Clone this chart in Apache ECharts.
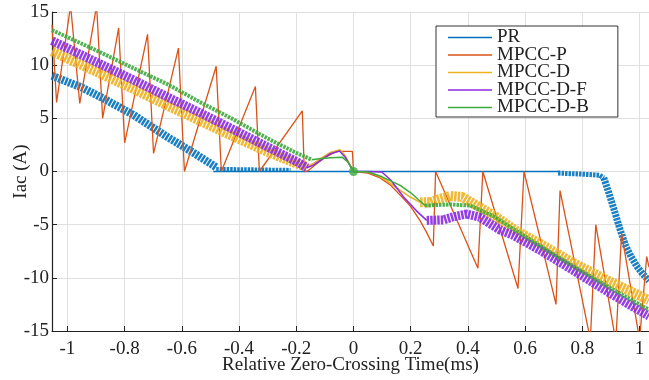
<!DOCTYPE html>
<html>
<head>
<meta charset="utf-8">
<script src="https://cdn.jsdelivr.net/npm/echarts@6/dist/echarts.min.js"></script>
<style>
  html, body { margin: 0; padding: 0; background: #fff; }
  #chart { width: 649px; height: 380px; }
</style>
</head>
<body>
<div id="chart"></div>
<script>
const seriesNames = ["PR", "MPCC-P", "MPCC-D", "MPCC-D-F", "MPCC-D-B"];

// PR: rippled parts and the flat part around the zero crossing
const prRippleA = [[-1.054, 9.0], [-0.95, 7.9], [-0.884, 7.0], [-0.768, 5.3], [-0.651, 3.25], [-0.559, 1.75], [-0.5, 0.75], [-0.48, 0.4]];
const prRippleB = [[-0.48, 0.25], [-0.35, 0.2], [-0.22, 0.15]];
const prFlat = [[-0.49, 0], [0.72, 0]];
const prRippleC = [[0.715, -0.15], [0.8, -0.25], [0.86, -0.35], [0.875, -0.6]];
const prRippleD = [[0.875, -0.6], [0.89, -1.8], [0.91, -3.5], [0.93, -5.3], [0.95, -6.9], [0.97, -8.0], [0.99, -8.9], [1.01, -9.6], [1.033, -10.3]];

// MPCC-P: sawtooth vertices
const mpccP = [
  [-1.054, 13.8], [-1.038, 6.5], [-0.989, 15.6], [-0.957, 6.4], [-0.898, 15.6], [-0.877, 5.0],
  [-0.821, 13.5], [-0.8, 2.7], [-0.72, 12.9], [-0.699, 1.7], [-0.612, 11.6], [-0.591, 0],
  [-0.48, 9.9], [-0.462, 0], [-0.343, 8.0], [-0.329, 0], [-0.179, 5.7], [-0.172, 0],
  [-0.16, 0.05], [-0.13, 0.7], [-0.1, 1.3], [-0.07, 1.75], [-0.055, 1.9], [-0.004, 1.9], [0, 0],
  [0.05, -0.15], [0.093, -0.6], [0.13, -1.3], [0.173, -2.5], [0.2, -3.3], [0.232, -4.6], [0.255, -5.7],
  [0.279, -7.0], [0.287, 0], [0.435, -9.1], [0.452, 0], [0.575, -11.0], [0.596, 0], [0.708, -12.5],
  [0.722, -1.8], [0.828, -15.8], [0.847, -5.0], [0.917, -16.0], [0.937, -5.8], [1.0, -15.8],
  [1.025, -8.0], [1.033, -9.0]
];

// MPCC-D
const dRippleA = [[-1.054, 11.3], [-0.9, 9.4], [-0.768, 7.75], [-0.65, 6.2], [-0.535, 4.75], [-0.42, 3.3], [-0.3, 1.85], [-0.2, 0.75], [-0.163, 0.45]];
const dSmooth = [[-0.163, 0.45], [-0.14, 0.75], [-0.116, 1.2], [-0.081, 1.8], [-0.047, 2.05], [-0.029, 1.5], [0, 0], [0.05, -0.05], [0.08, -0.3], [0.116, -0.85], [0.16, -1.7], [0.198, -2.4], [0.233, -2.9]];
const dRippleB = [[0.233, -2.9], [0.268, -2.9], [0.3, -2.6], [0.337, -2.3], [0.38, -2.4], [0.431, -3.2], [0.5, -4.3], [0.57, -5.6], [0.652, -6.8], [0.768, -8.6], [0.9, -10.4], [1.033, -12.1]];

// MPCC-D-F
const dfRippleA = [[-1.054, 12.3], [-0.9, 10.3], [-0.768, 8.6], [-0.65, 7.0], [-0.535, 5.5], [-0.42, 3.95], [-0.3, 2.3], [-0.2, 0.95], [-0.163, 0.35]];
const dfSmooth = [[-0.163, 0.35], [-0.14, 0.6], [-0.116, 1.04], [-0.081, 1.67], [-0.049, 1.92], [-0.029, 1.35], [0, 0], [0.05, 0], [0.099, -0.05], [0.13, -0.8], [0.175, -2.4], [0.22, -3.7], [0.256, -4.6]];
const dfRippleB = [[0.256, -4.6], [0.314, -4.55], [0.35, -4.25], [0.396, -4.0], [0.442, -4.3], [0.512, -5.5], [0.558, -6.0], [0.652, -7.4], [0.768, -9.3], [0.9, -11.5], [1.033, -13.6]];

// MPCC-D-B
const dbRippleA = [[-1.054, 13.3], [-0.9, 11.4], [-0.768, 9.7], [-0.65, 8.2], [-0.535, 6.5], [-0.42, 4.9], [-0.3, 3.1], [-0.2, 1.75], [-0.145, 1.1]];
const dbSmooth = [[-0.145, 1.1], [-0.12, 1.2], [-0.08, 1.3], [-0.04, 1.35], [-0.02, 0.9], [0, 0], [0.05, -0.05], [0.1, -0.5], [0.163, -1.3], [0.2, -2.0], [0.25, -3.2]];
const dbRippleB = [[0.25, -3.2], [0.337, -3.1], [0.407, -3.2], [0.489, -4.2], [0.57, -5.6], [0.652, -7.0], [0.768, -8.9], [0.9, -11.0], [1.033, -13.0]];

const zeroCross = [[0, 0]];

const colors = {
  "PR": "#0072BD",
  "MPCC-P": "#D95319",
  "MPCC-D": "#EDB120",
  "MPCC-D-F": "#8A2BE2",
  "MPCC-D-B": "#3DAA3D",
};

const font = "'Liberation Serif', 'Times New Roman', serif";

function plain(name, data, width) {
  return {
    name: name,
    type: "line",
    data: data,
    symbol: "none",
    lineStyle: { color: colors[name], width: width || 1.5 },
    itemStyle: { color: colors[name] },
  };
}

// switching ripple drawn as a striped band
function ripple(name, data, width) {
  return {
    name: name,
    type: "line",
    data: data,
    symbol: "none",
    lineStyle: { color: colors[name], width: width, type: [2.5, 1], cap: "butt", join: "bevel", opacity: 0.9 },
    itemStyle: { color: colors[name] },
  };
}

const chart = echarts.init(document.getElementById("chart"));

const axisText = { fontFamily: font, fontSize: 19, color: "#222" };

const option = {
  animation: false,
  grid: { left: 52, right: 0, top: 12, bottom: 49, outerBoundsMode: "none" },
  legend: {
    data: seriesNames,
    orient: "vertical",
    left: 436,
    top: 26,
    padding: [2, 29, 0, 12],
    icon: "rect",
    itemWidth: 44,
    itemHeight: 1.6,
    itemGap: -1.5,
    backgroundColor: "#fff",
    borderColor: "#333",
    borderWidth: 1,
    borderRadius: 0,
    textStyle: { fontFamily: font, fontSize: 19, color: "#222" },
  },
  xAxis: {
    type: "value",
    min: -1.054,
    max: 1.033,
    splitNumber: 10,
    name: "Relative Zero-Crossing Time(ms)",
    nameLocation: "middle",
    nameGap: 25,
    nameMoveOverlap: false,
    nameTextStyle: axisText,
    axisLine: { onZero: false, lineStyle: { color: "#222", width: 1.2 } },
    axisTick: { inside: true, length: 5, lineStyle: { color: "#222" } },
    axisLabel: Object.assign({ margin: 9, showMinLabel: false, showMaxLabel: false }, axisText),
    splitLine: { lineStyle: { color: "#e0e0e0", width: 1 } },
  },
  yAxis: {
    type: "value",
    min: -15,
    max: 15,
    interval: 5,
    name: "Iac (A)",
    nameLocation: "middle",
    nameGap: 21,
    nameMoveOverlap: false,
    nameTextStyle: axisText,
    axisLine: { show: true, onZero: false, lineStyle: { color: "#222", width: 1.2 } },
    axisTick: { show: true, inside: true, length: 5, lineStyle: { color: "#222" } },
    axisLabel: Object.assign({ margin: 3 }, axisText),
    splitLine: { lineStyle: { color: "#e0e0e0", width: 1 } },
  },
  series: [
    plain("PR", prFlat),
    ripple("PR", prRippleA, 8),
    ripple("PR", prRippleB, 4),
    ripple("PR", prRippleC, 5),
    ripple("PR", prRippleD, 7),
    plain("MPCC-P", mpccP, 1.3),
    plain("MPCC-D", dSmooth),
    ripple("MPCC-D", dRippleA, 10),
    ripple("MPCC-D", dRippleB, 10),
    plain("MPCC-D-F", dfSmooth),
    ripple("MPCC-D-F", dfRippleA, 9),
    ripple("MPCC-D-F", dfRippleB, 9),
    plain("MPCC-D-B", dbSmooth),
    ripple("MPCC-D-B", dbRippleA, 4),
    ripple("MPCC-D-B", dbRippleB, 4),
    {
      type: "scatter",
      data: zeroCross,
      symbolSize: 9,
      itemStyle: { color: colors["MPCC-D-B"] },
      z: 5,
    },
  ],
};

chart.setOption(option);

window.addEventListener("resize", () => {
  chart.resize();
});
</script>
</body>
</html>
